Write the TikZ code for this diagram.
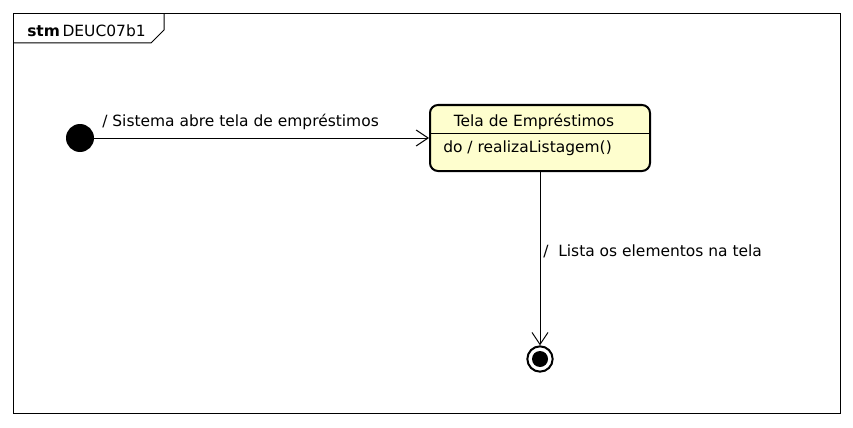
\documentclass[tikz,border=0pt]{standalone}
\usepackage{fontspec}
\setmainfont{DejaVu Sans}
\usetikzlibrary{arrows.meta}
\definecolor{statefill}{HTML}{FEFECE}
\begin{document}
\begin{tikzpicture}[x=0.75pt,y=-0.75pt,
  lbl/.style={font=\fontsize{11.6}{14}\selectfont,inner sep=0pt},
  conn/.style={line width=0.75pt,-{Straight Barb[length=9pt,width=12pt,line width=0.75pt]}},
  statebox/.style={draw,line width=1.5pt,fill=statefill,rounded corners=6pt,minimum width=165pt,minimum height=49.5pt,inner sep=0pt}]
\useasboundingbox (0,0) rectangle (853,428);
% frame
\draw[line width=0.75pt] (13,14) rectangle (840,413);
\draw[line width=0.75pt] (13,43) -- (151,43) -- (164,30) -- (164,14);
\node[lbl,anchor=base west] (title) at (27,37) {\textbf{stm}\,DEUC07b1};
% initial
\node[circle,fill=black,minimum size=21pt,inner sep=0pt] (init) at (80,138) {};
% state
\node[statebox] (st) at (540,138) {};
\draw[line width=0.75pt] (430,133) -- (650,133);
\node[lbl,anchor=base] (stname) at (534,127) {Tela de Empréstimos};
\node[lbl,anchor=base west] (stdo) at (443,152) {do / realizaListagem()};
% final
\node[circle,draw,line width=1.5pt,minimum size=19pt,inner sep=0pt] (fin) at (540,359) {};
\node[circle,fill=black,minimum size=12pt,inner sep=0pt] (finin) at (540,359) {};
% connectors
\draw[conn] (init) -- (st.west |- init) coordinate (e1);
\node[lbl,anchor=base west] (l1) at (102,127) {/ Sistema abre tela de empréstimos};
\draw[conn] (st.south -| fin) -- (fin.north);
\node[lbl,anchor=base west] (l2) at (543,256) {/\ \ Lista os elementos na tela};
\end{tikzpicture}
\end{document}
